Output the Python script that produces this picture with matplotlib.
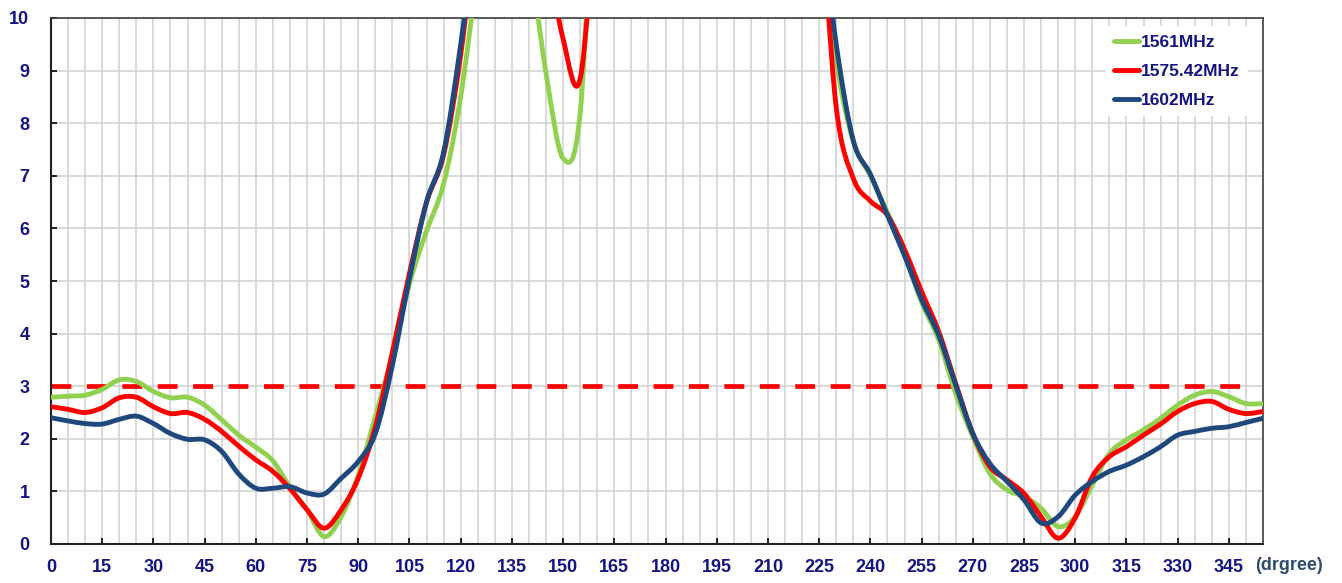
import matplotlib
matplotlib.use("Agg")
import matplotlib.pyplot as plt
import numpy as np
from matplotlib.path import Path
from matplotlib.patches import PathPatch
from matplotlib.lines import Line2D

# angle categories (deg), one sample every 5 degrees
angles = list(range(0, 360, 5))

# axial ratio (dB); values above 10 are off-scale
green_1561 = [2.79, 2.81, 2.83, 2.94, 3.12, 3.09, 2.90, 2.78, 2.79, 2.64,
              2.36, 2.07, 1.84, 1.58, 1.08, 0.65, 0.14, 0.52, 1.31, 2.42,
              3.60, 4.95, 5.95, 6.85, 8.50, 10.9, 13.0, 13.5, 11.3, 8.95,
              7.33, 8.20, 14.0, 17.0, 18.0, 19.0, 19.5, 19.5, 19.0, 18.5,
              18.0, 17.0, 16.0, 15.0, 14.0, 12.0, 9.20, 7.65, 7.00, 6.30,
              5.50, 4.60, 3.88, 2.86, 2.04, 1.34, 1.03, 0.90, 0.68, 0.33,
              0.52, 1.12, 1.72, 1.98, 2.17, 2.39, 2.64, 2.83, 2.90, 2.80,
              2.67, 2.67]
red_1575 = [2.61, 2.56, 2.50, 2.59, 2.78, 2.79, 2.61, 2.48, 2.50, 2.37,
            2.14, 1.86, 1.60, 1.38, 1.05, 0.65, 0.30, 0.65, 1.25, 2.23,
            3.65, 5.15, 6.50, 7.40, 9.30, 12.0, 14.0, 15.0, 13.5, 11.4,
            9.60, 8.85, 12.5, 16.0, 17.5, 18.5, 19.0, 19.0, 18.5, 18.0,
            17.5, 16.5, 15.5, 14.5, 13.5, 12.25, 8.30, 6.95, 6.52, 6.25,
            5.60, 4.80, 4.04, 3.05, 2.10, 1.47, 1.22, 0.96, 0.52, 0.11,
            0.50, 1.28, 1.66, 1.85, 2.07, 2.28, 2.52, 2.67, 2.71, 2.56,
            2.48, 2.52]
blue_1602 = [2.40, 2.34, 2.29, 2.28, 2.37, 2.43, 2.29, 2.10, 1.99, 1.98,
             1.76, 1.33, 1.06, 1.06, 1.09, 0.97, 0.95, 1.25, 1.57, 2.10,
             3.40, 5.05, 6.50, 7.45, 9.50, 12.0, 14.5, 16.5, 18.0, 19.0,
             19.5, 20.0, 20.0, 20.0, 19.5, 19.5, 19.0, 19.0, 18.5, 18.0,
             17.5, 17.0, 16.0, 15.0, 14.0, 12.2, 9.50, 7.67, 7.03, 6.25,
             5.48, 4.65, 3.97, 3.02, 2.10, 1.53, 1.19, 0.84, 0.40, 0.52,
             0.93, 1.19, 1.38, 1.50, 1.66, 1.85, 2.07, 2.14, 2.20, 2.23,
             2.31, 2.39]

series_names = ["1561MHz", "1575.42MHz", "1602MHz"]
series_values = [green_1561, red_1575, blue_1602]
series_colors = ["#92d050", "#ff0000", "#1f497d"]

limit_value = 3
limit_span = [0, 350]
x_ticks = list(range(0, 346, 15))
y_ticks = list(range(0, 11))

LABEL_COLOR = "#141482"
FONT = "Liberation Sans"


def smooth_path(x, y):
    """Excel-like smoothed line as a chain of cubic Bezier segments."""
    pts = np.column_stack([x, y]).astype(float)
    n = len(pts)
    verts = [pts[0]]
    codes = [Path.MOVETO]
    for i in range(n - 1):
        p0 = pts[max(i - 1, 0)]
        p1 = pts[i]
        p2 = pts[i + 1]
        p3 = pts[min(i + 2, n - 1)]
        verts += [p1 + (p2 - p0) / 6, p2 - (p3 - p1) / 6, p2]
        codes += [Path.CURVE4] * 3
    return Path(verts, codes)


plt.rcParams["font.family"] = [FONT, "DejaVu Sans"]

fig = plt.figure(figsize=(13.42, 5.83), dpi=100)
ax = fig.add_axes([51 / 1342, 39 / 583, 1212 / 1342, 526 / 583])

# limit line
ax.plot(limit_span, [limit_value, limit_value], color="#ff0000", lw=3.4,
        dashes=(4.2, 3.3), solid_capstyle="butt", dash_capstyle="butt", zorder=2)

handles = []
for name, vals, col in zip(series_names, series_values, series_colors):
    patch = PathPatch(smooth_path(angles, vals), fill=False, edgecolor=col,
                      lw=3.5, joinstyle="round", capstyle="round", zorder=3)
    ax.add_patch(patch)
    handles.append(Line2D([], [], color=col, lw=3.5, solid_capstyle="round"))

ax.set_xlim(0, 355)
ax.set_ylim(0, 10)

ax.set_xticks(x_ticks)
ax.set_xticks(angles, minor=True)
ax.set_yticks(y_ticks)
ax.grid(True, which="both", axis="x", color="#d0d0d0", lw=1.1, zorder=0)
ax.grid(True, which="major", axis="y", color="#d0d0d0", lw=1.1, zorder=0)
ax.set_axisbelow(True)

ax.tick_params(axis="x", which="major", direction="in", length=4, width=1.2,
               pad=11, labelsize=13, labelcolor=LABEL_COLOR)
ax.tick_params(axis="x", which="minor", length=0)
ax.tick_params(axis="y", direction="in", length=4, width=1.2,
               pad=15.5, labelsize=13, labelcolor=LABEL_COLOR)
for lab in ax.get_xticklabels() + ax.get_yticklabels():
    lab.set_fontweight("bold")

for side in ["left", "bottom"]:
    ax.spines[side].set_color("#202020")
    ax.spines[side].set_linewidth(1.5)
for side in ["top", "right"]:
    ax.spines[side].set_color("#404040")
    ax.spines[side].set_linewidth(1.2)

leg = ax.legend(handles, series_names, loc="upper right",
                bbox_to_anchor=(0.988, 0.985), borderaxespad=0,
                frameon=True, fancybox=False, framealpha=1,
                handlelength=1.45, handletextpad=0.1, labelspacing=0.8,
                borderpad=0.5,
                prop={"family": FONT, "weight": "bold", "size": 12.5})
leg.get_frame().set_edgecolor("white")
leg.get_frame().set_linewidth(0)
for txt in leg.get_texts():
    txt.set_color(LABEL_COLOR)

fig.text(1255 / 1342, (583 - 566) / 583, "(drgree)", ha="left", va="center",
         color="#2e4a6e", fontweight="bold", fontsize=13)

fig.savefig("out.png", dpi=100)
